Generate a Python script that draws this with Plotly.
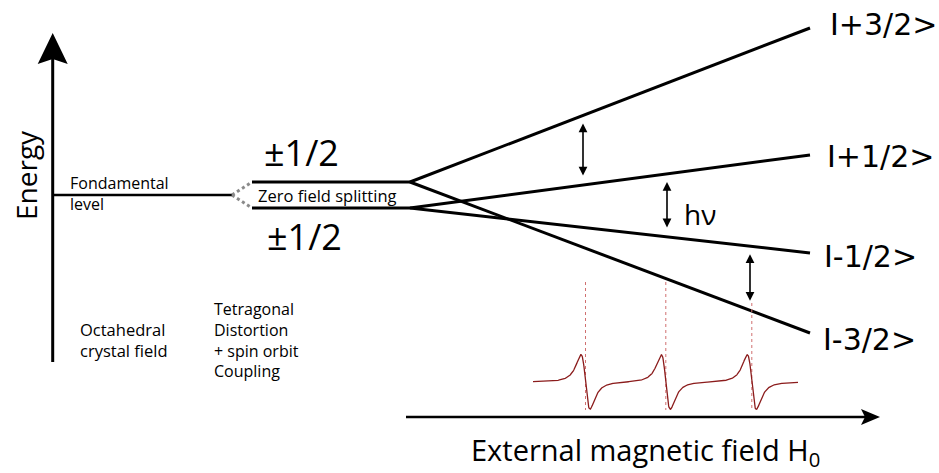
import numpy as np
import plotly.graph_objects as go

# ---------------- data (diagram units: x = field / stage, y = energy) ----------------
fundamental_energy = 278
fundamental_x = [52.7, 232]
zfs_split_x = [232, 252]
zfs_line_x = [252, 410]
zfs_energies = [291, 265]            # upper / lower Kramers doublets (±1/2 labels)
field_start, field_end = 410, 810

level_labels = ["I+3/2>", "I+1/2>", "I-1/2>", "I-3/2>"]
level_start = [291, 265, 265, 291]
level_end = [445, 318, 220, 140]
label_x = [829, 826, 823, 822]
label_y = [449, 317, 217, 134]

arrow_x = [583, 667, 750]
arrow_pairs = [(1, 0), (2, 1), (3, 2)]   # (lower level, upper level)
arrow_gap = 8

resonance_fields = [585.5, 665.8, 751.8]
dotted_top = [191, 191, 170]
dotted_bottom = 63
epr_range = [533, 798]
epr_baseline = 91
epr_amplitude = 84
epr_linewidth = 7.8

energy_axis = dict(x=52.7, y0=111, y1=438)
field_axis = dict(y=56, x0=406, x1=880)

FONT = "Open Sans"
KET_FONT = "DejaVu Sans"

def level_energy(i, x):
    return level_start[i] + (level_end[i] - level_start[i]) * (x - field_start) / (field_end - field_start)

fig = go.Figure()

# fundamental level
fig.add_trace(go.Scatter(x=fundamental_x, y=[fundamental_energy] * 2, mode="lines",
                         line=dict(color="black", width=2.5), hoverinfo="skip"))
# zero field splitting (hatched diagonal)
for e in zfs_energies:
    fig.add_trace(go.Scatter(x=zfs_split_x, y=[fundamental_energy, e], mode="lines",
                             line=dict(color="#8a8a8a", width=3, dash="dot"), hoverinfo="skip"))
    fig.add_trace(go.Scatter(x=zfs_line_x, y=[e, e], mode="lines",
                             line=dict(color="black", width=3), hoverinfo="skip"))
# Zeeman levels
for i in range(4):
    fig.add_trace(go.Scatter(x=[field_start, field_end], y=[level_start[i], level_end[i]],
                             mode="lines", line=dict(color="black", width=3), hoverinfo="skip"))

# dotted resonance lines
for xr, top in zip(resonance_fields, dotted_top):
    fig.add_trace(go.Scatter(x=[xr, xr], y=[top, dotted_bottom], mode="lines",
                             line=dict(color="#d07070", width=1, dash="dot"), hoverinfo="skip"))

# EPR derivative spectrum
xs = np.linspace(epr_range[0], epr_range[1], 800)
ys = np.full_like(xs, float(epr_baseline))
for xr in resonance_fields:
    u = (xs - xr) / epr_linewidth
    ys += -epr_amplitude * u / (1 + u ** 2) ** 2
fig.add_trace(go.Scatter(x=xs, y=ys, mode="lines", line=dict(color="#8b1c1c", width=1.3),
                         hoverinfo="skip"))

# axes lines
fig.add_trace(go.Scatter(x=[energy_axis["x"]] * 2, y=[energy_axis["y0"], energy_axis["y1"] - 20],
                         mode="lines", line=dict(color="black", width=3), hoverinfo="skip"))
fig.add_trace(go.Scatter(x=[field_axis["x0"], field_axis["x1"] - 10], y=[field_axis["y"]] * 2,
                         mode="lines", line=dict(color="black", width=2.5), hoverinfo="skip"))

shapes = []
ex, ey = energy_axis["x"], energy_axis["y1"]
shapes.append(dict(type="path", xref="x", yref="y",
                   path=f"M {ex},{ey+2} L {ex-15},{ey-29} L {ex},{ey-24} L {ex+15},{ey-29} Z",
                   fillcolor="black", line=dict(width=0)))
fx, fy = field_axis["x1"], field_axis["y"]
shapes.append(dict(type="path", xref="x", yref="y",
                   path=f"M {fx},{fy} L {fx-19},{fy+8} L {fx-15},{fy} L {fx-19},{fy-8} Z",
                   fillcolor="black", line=dict(width=0)))

annotations = []
# double arrows
for ax_, (lo, hi) in zip(arrow_x, arrow_pairs):
    y_top = level_energy(hi, ax_) - arrow_gap
    y_bot = level_energy(lo, ax_) + arrow_gap
    annotations.append(dict(x=ax_, y=y_top, ax=ax_, ay=y_bot, xref="x", yref="y", axref="x", ayref="y",
                            text="", showarrow=True, arrowhead=2, arrowside="end+start",
                            arrowsize=1.1, arrowwidth=1.6, arrowcolor="black"))

def txt(x, y, s, size, anchor="left", angle=0, family=FONT):
    annotations.append(dict(x=x, y=y, xref="x", yref="y", text=s, showarrow=False,
                            xanchor=anchor, yanchor="middle", textangle=angle, align="left",
                            borderpad=0,
                            font=dict(family=family, size=size, color="black")))

# level labels
for lbl, lx, ly in zip(level_labels, label_x, label_y):
    txt(lx, ly, lbl, 30, family=KET_FONT)

txt(26, 298, "Energy", 28, anchor="center", angle=-90)
txt(69, 280, "Fondamental<br>level", 16)
txt(257, fundamental_energy, "Zero field splitting", 16.5)
txt(301, 321, "±1/2", 36, anchor="center")
txt(304, 237, "±1/2", 36, anchor="center")
txt(700, 259, "hν", 28, anchor="center")
txt(79, 133, "Octahedral<br>crystal field", 16.5)
txt(213, 133, "Tetragonal<br>Distortion<br>+ spin orbit<br>Coupling", 16)
txt(645, 22, "External magnetic field H<sub>0</sub>", 29, anchor="center")

fig.update_layout(
    width=939, height=473, margin=dict(l=0, r=0, t=0, b=0),
    paper_bgcolor="white", plot_bgcolor="white", showlegend=False,
    xaxis=dict(range=[0, 939], visible=False, fixedrange=True),
    yaxis=dict(range=[0, 473], visible=False, fixedrange=True),
    shapes=shapes, annotations=annotations,
)
fig.write_html("out.html", config={"displayModeBar": False},
               post_script="document.body.style.margin='0';document.body.style.overflow='hidden';")
